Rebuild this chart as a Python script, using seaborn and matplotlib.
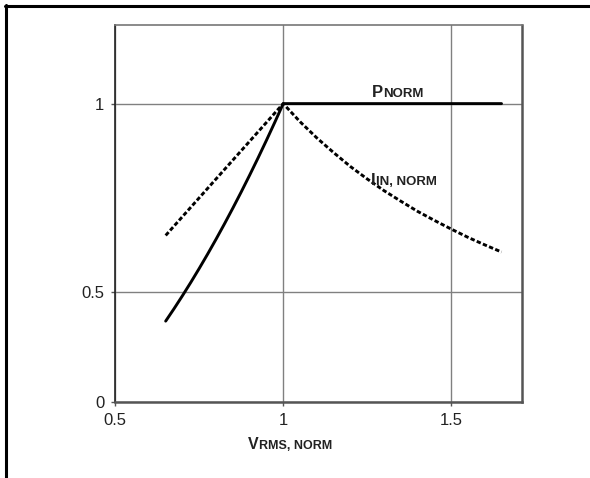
import pandas as pd
import matplotlib
matplotlib.use('Agg')
import matplotlib.pyplot as plt
from matplotlib.lines import Line2D
import seaborn as sns

# Values
v_pnorm = [0.65, 0.675, 0.70, 0.725, 0.75, 0.775, 0.80, 0.825, 0.85,
           0.875, 0.90, 0.925, 0.95, 0.975, 1.00, 1.65]
p_norm = [0.4225, 0.4556, 0.49, 0.5256, 0.5625, 0.6006, 0.64, 0.6806, 0.7225,
          0.7656, 0.81, 0.8556, 0.9025, 0.9506, 1.00, 1.00]

v_iin = [0.65, 1.00, 1.05, 1.10, 1.15, 1.20, 1.25, 1.30, 1.35, 1.40,
         1.45, 1.50, 1.55, 1.60, 1.65]
i_norm = [0.65, 1.00, 0.952, 0.909, 0.870, 0.833, 0.800, 0.769, 0.741, 0.714,
          0.690, 0.667, 0.645, 0.625, 0.606]

x_ticks = [0.5, 1.0, 1.5]
x_tick_labels = ['0.5', '1', '1.5']
# the chart's y axis is cut below 0.5: its bottom is labelled "0"
y_ticks = [0.207, 0.5, 1.0]
y_tick_labels = ['0', '0.5', '1']

df = pd.concat([
    pd.DataFrame({'V': v_pnorm, 'value': p_norm, 'series': 'P'}),
    pd.DataFrame({'V': v_iin, 'value': i_norm, 'series': 'I'}),
], ignore_index=True)

sns.set_style('white')
plt.rcParams['font.family'] = ['Liberation Sans', 'DejaVu Sans']

fig = plt.figure(figsize=(5.9, 4.78), dpi=100)
ax = fig.add_axes([0.1954, 0.1584, 0.6888, 0.7887])

sns.lineplot(data=df, x='V', y='value', style='series',
             dashes={'P': '', 'I': (1.5, 0.8)}, color='black',
             lw=2.1, legend=False, ax=ax)

ax.set_xlim(0.5, 1.71)
ax.set_ylim(0.207, 1.208)
ax.set_xticks(x_ticks, x_tick_labels)
ax.set_yticks(y_ticks, y_tick_labels)
ax.set_xlabel('')
ax.set_ylabel('')
ax.grid(True, color='#808080', lw=1)
ax.set_axisbelow(True)
ax.tick_params(bottom=True, left=True, direction='out', length=3, width=1,
               color='#555555', labelsize=12, pad=5, labelcolor='#222222')

ax.spines['left'].set_color('#222222')
ax.spines['left'].set_linewidth(1.2)
ax.spines['top'].set_color('#777777')
ax.spines['top'].set_linewidth(1.2)
for side in ['bottom', 'right']:
    ax.spines[side].set_color('#555555')
    ax.spines[side].set_linewidth(1.8)


def small_caps(x, y, big, small, transform, size=12, small_size=9.5):
    t = ax.text(x, y, big, fontsize=size, fontweight='bold', color='#222222',
                transform=transform, ha='left', va='baseline')
    ax.annotate(small, xy=(1, 0), xycoords=t, fontsize=small_size, fontweight='bold',
                color='#222222', ha='left', va='bottom')


small_caps(1.264, 1.018, 'P', 'NORM', ax.transData)
small_caps(1.262, 0.783, 'I', 'IN, NORM', ax.transData)
small_caps(0.421, 0.06, 'V', 'RMS, NORM', fig.transFigure, 11.5, 9)

# page frame (top and left edges)
fig.add_artist(Line2D([5 / 590, 1], [1 - 6 / 478] * 2, transform=fig.transFigure,
                      color='black', lw=2.2))
fig.add_artist(Line2D([6 / 590] * 2, [0, 1 - 5 / 478], transform=fig.transFigure,
                      color='black', lw=2.2))

fig.savefig('out.png', dpi=100)
